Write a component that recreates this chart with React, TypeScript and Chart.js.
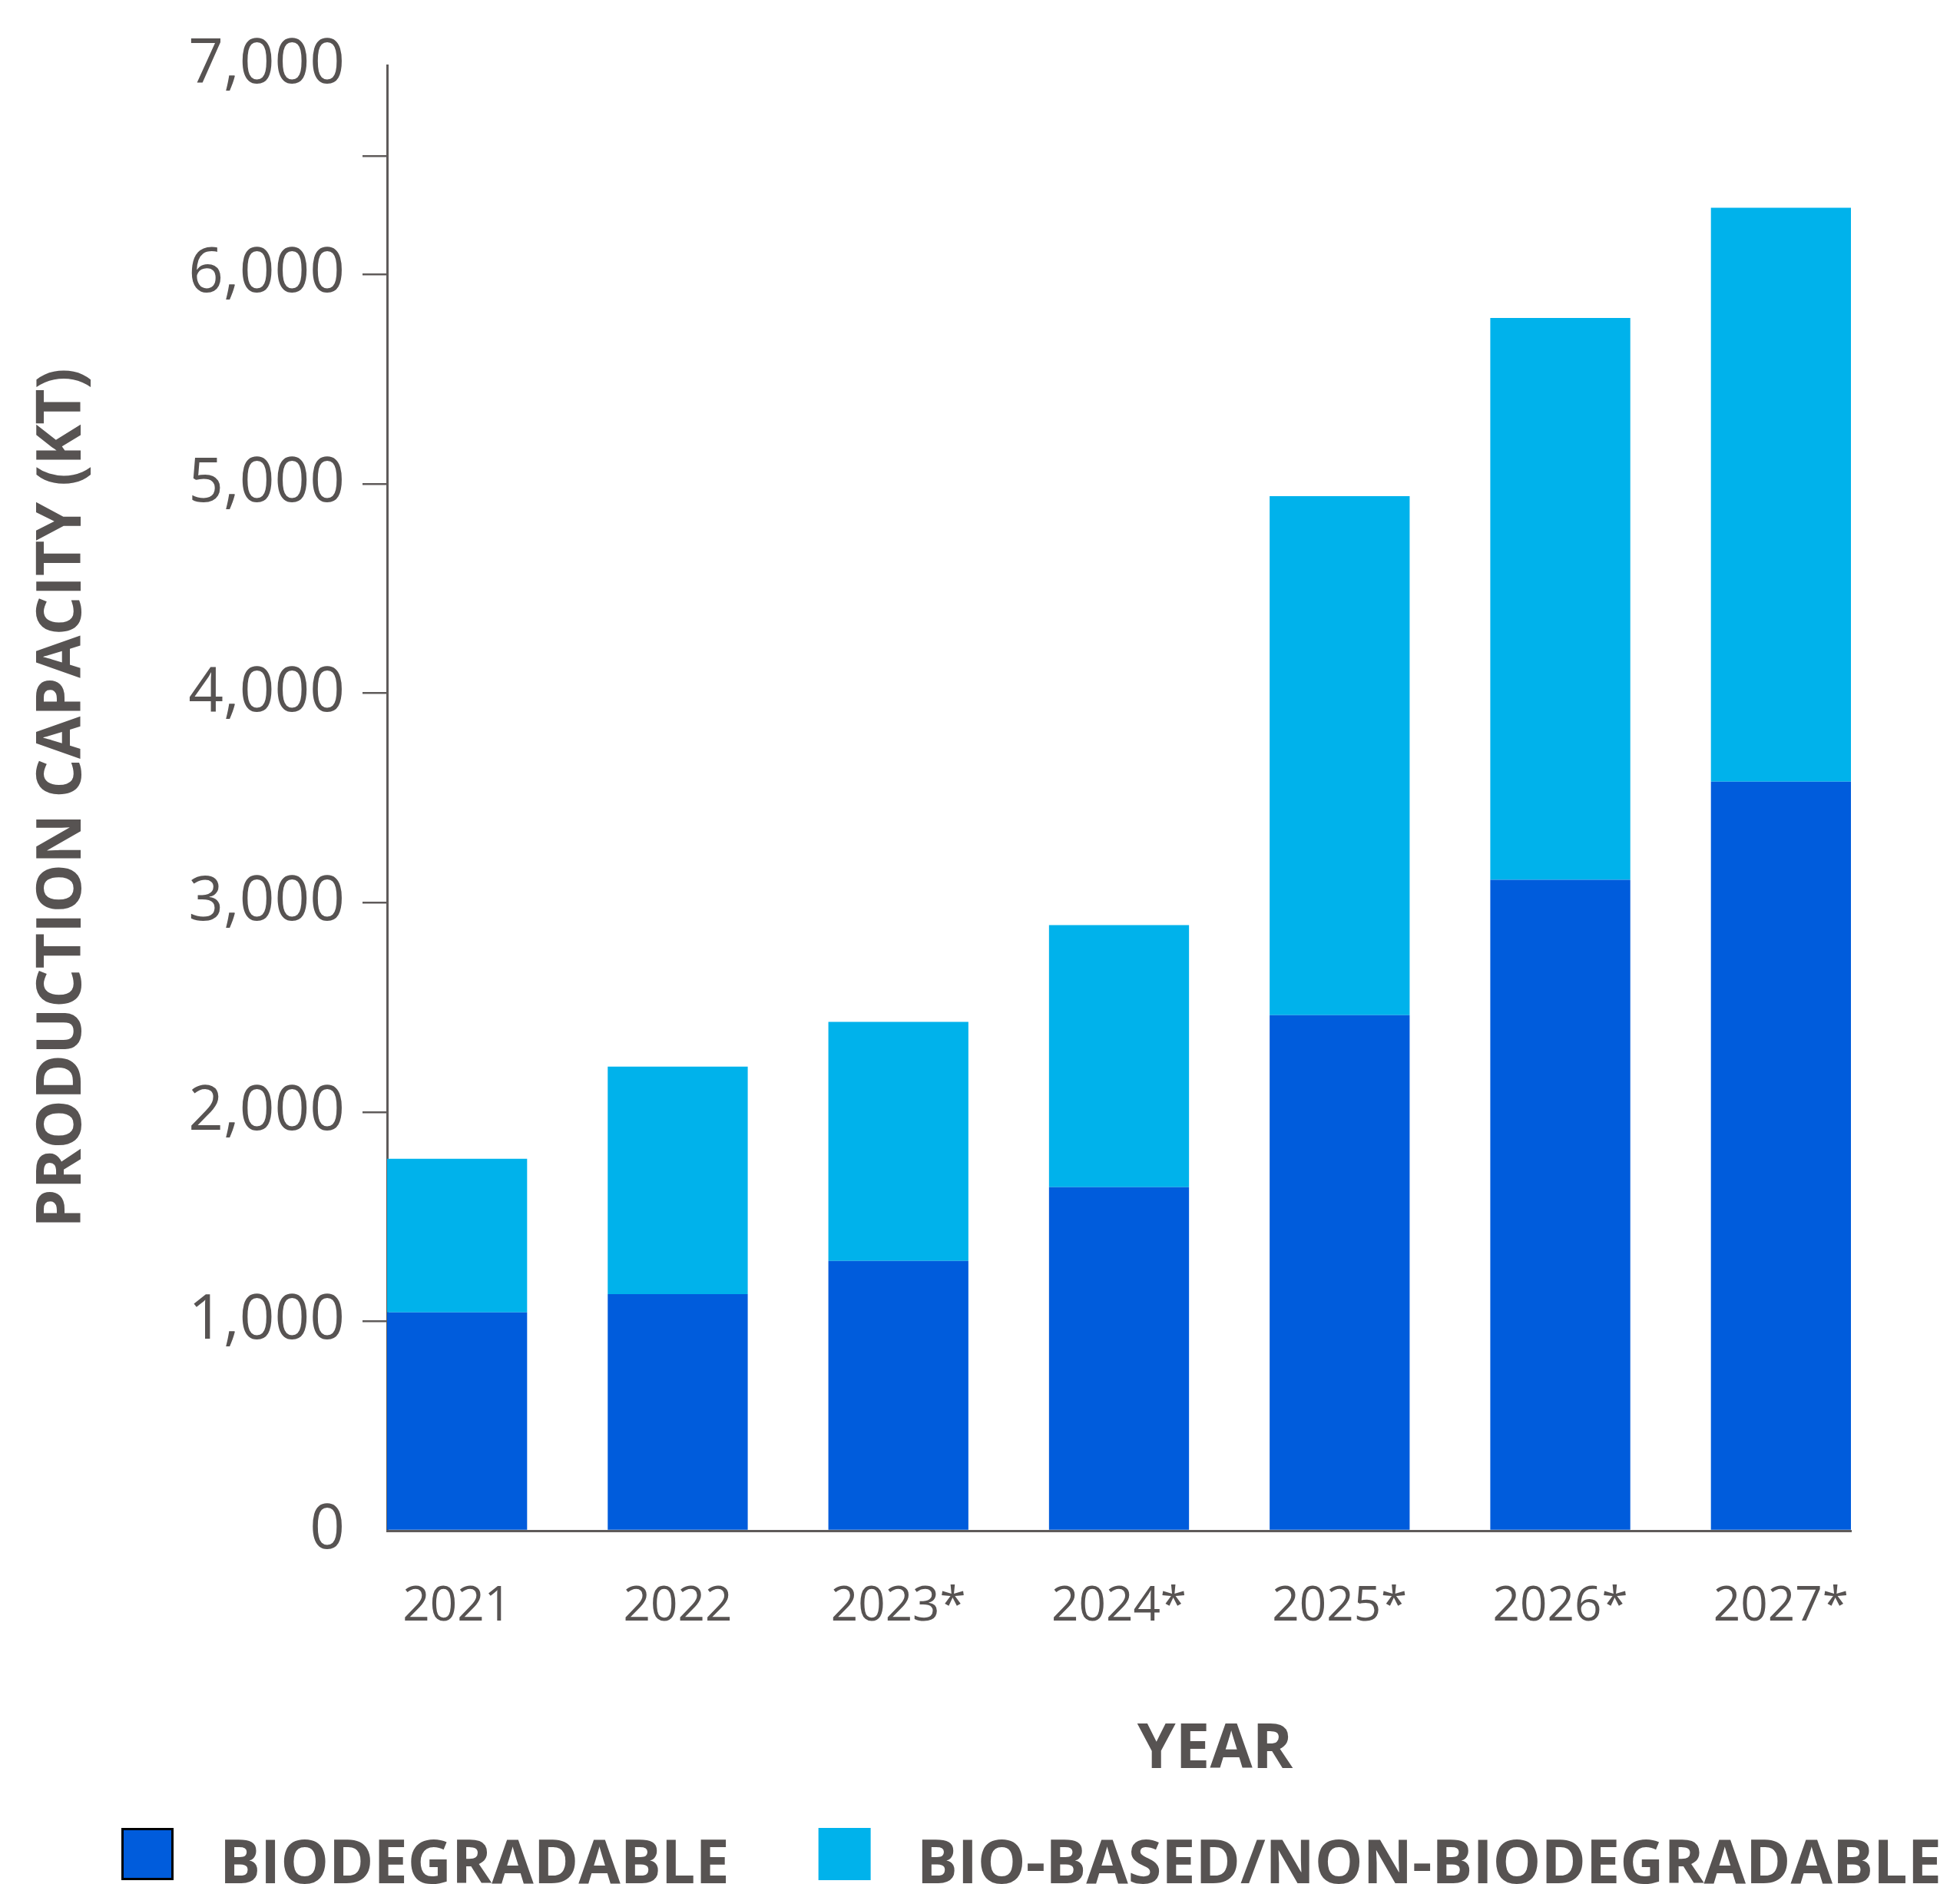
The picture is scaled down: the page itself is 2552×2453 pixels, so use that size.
import React, { useEffect, useRef } from 'react';
import { Chart, registerables } from 'chart.js';

Chart.register(...registerables);

// ---- data ----
const years = ['2021', '2022', '2023*', '2024*', '2025*', '2026*', '2027*'];
const biodegradable = [1043, 1130, 1289, 1641, 2463, 3109, 3578];
const bioBasedNonBiodegradable = [734, 1087, 1142, 1252, 2479, 2684, 2741];
const seriesLabels = ['BIODEGRADABLE', 'BIO-BASED/NON-BIODEGRADABLE'];
const yLabelTicks = [0, 1000, 2000, 3000, 4000, 5000, 6000, 7000];
const yExtraTicks = [6565];
const yTitle = 'PRODUCTION CAPACITY (KT)';
const xTitle = 'YEAR';

// ---- style ----
const W = 2552;
const H = 2453;
const TEXT = '#575352';
const AXIS = '#5f5b5a';
const BLUE = '#005CDC';
const CYAN = '#00B2EB';
const FONT = '"Open Sans", "Noto Sans", sans-serif';

const annotate = {
  id: 'annotate',
  afterDraw(chart: any) {
    const { ctx, chartArea } = chart;
    ctx.save();
    // x-axis title
    ctx.fillStyle = TEXT;
    ctx.font = `bold 80px ${FONT}`;
    ctx.textAlign = 'center';
    ctx.textBaseline = 'alphabetic';
    ctx.fillText(
      xTitle,
      chartArea.left + 0.5656 * (chartArea.right - chartArea.left),
      chartArea.bottom + 309
    );
    // legend
    ctx.font = `bold 79px ${FONT}`;
    ctx.textAlign = 'left';
    let x = 158;
    const boxTop = 2380;
    const box = 68;
    const baseline = 2452;
    chart.data.datasets.forEach((ds: any, i: number) => {
      ctx.fillStyle = ds.backgroundColor;
      ctx.fillRect(x, boxTop, box, box);
      if (i === 0) {
        ctx.strokeStyle = '#000000';
        ctx.lineWidth = 3;
        ctx.strokeRect(x + 1.5, boxTop + 1.5, box - 3, box - 3);
      }
      ctx.fillStyle = TEXT;
      const tx = x + box + 60;
      ctx.fillText(ds.label, tx, baseline);
      x = tx + ctx.measureText(ds.label).width + 116;
    });
    ctx.restore();
  },
};

export default function App() {
  const ref = useRef<HTMLCanvasElement | null>(null);

  useEffect(() => {
    if (!ref.current) return;
    const chart = new Chart(ref.current, {
      type: 'bar',
      data: {
        datasets: [
          {
            label: seriesLabels[0],
            data: years.map((_, i) => ({ x: i, y: biodegradable[i] })),
            backgroundColor: BLUE,
            borderWidth: 0,
            categoryPercentage: 1,
            barPercentage: 0.6346,
          },
          {
            label: seriesLabels[1],
            data: years.map((_, i) => ({ x: i, y: bioBasedNonBiodegradable[i] })),
            backgroundColor: CYAN,
            borderWidth: 0,
            categoryPercentage: 1,
            barPercentage: 0.6346,
          },
        ],
      } as any,
      options: {
        responsive: false,
        animation: false,
        devicePixelRatio: 1,
        layout: { padding: { left: 0, right: 142, top: 85, bottom: 0 } },
        plugins: { legend: { display: false }, tooltip: { enabled: false } },
        scales: {
          x: {
            type: 'linear',
            stacked: true,
            offset: false,
            min: -0.3173,
            max: 6.3173,
            afterBuildTicks: (s: any) => {
              s.ticks = years.map((_, i) => ({ value: i }));
            },
            afterFit: (s: any) => {
              s.height = 460;
            },
            grid: { display: false, offset: false },
            border: { display: true, color: AXIS, width: 3 },
            ticks: {
              callback: (v: any) => years[v] ?? '',
              font: { family: FONT, size: 62 },
              color: TEXT,
              padding: 54,
              maxRotation: 0,
              autoSkip: false,
            },
          },
          y: {
            type: 'linear',
            stacked: true,
            min: 0,
            max: 7000,
            afterBuildTicks: (s: any) => {
              s.ticks = [...yLabelTicks, ...yExtraTicks]
                .sort((a, b) => a - b)
                .map((v) => ({ value: v }));
            },
            afterFit: (s: any) => {
              s.width = 504;
            },
            grid: {
              drawOnChartArea: false,
              drawTicks: true,
              tickLength: 32,
              lineWidth: 2.5,
              tickWidth: 2.5,
              tickColor: (c: any) =>
                c.tick && (c.tick.value === 0 || c.tick.value === 7000)
                  ? 'rgba(0,0,0,0)'
                  : AXIS,
            },
            border: { display: true, color: AXIS, width: 3 },
            ticks: {
              callback: (v: any) =>
                yLabelTicks.includes(v) ? Number(v).toLocaleString('en-US') : '',
              font: { family: FONT, size: 80 },
              color: TEXT,
              padding: 23,
              autoSkip: false,
            },
            title: {
              display: true,
              text: yTitle,
              font: { family: FONT, size: 80, weight: 'bold' },
              color: TEXT,
              padding: { top: 34, bottom: 0 },
            },
          },
        },
      } as any,
      plugins: [annotate],
    });
    return () => chart.destroy();
  }, []);

  return (
    <div style={{ position: 'absolute', left: 0, top: 0, width: W, height: H, background: '#fff' }}>
      <canvas ref={ref} width={W} height={H} style={{ width: W, height: H, display: 'block' }} />
    </div>
  );
}
